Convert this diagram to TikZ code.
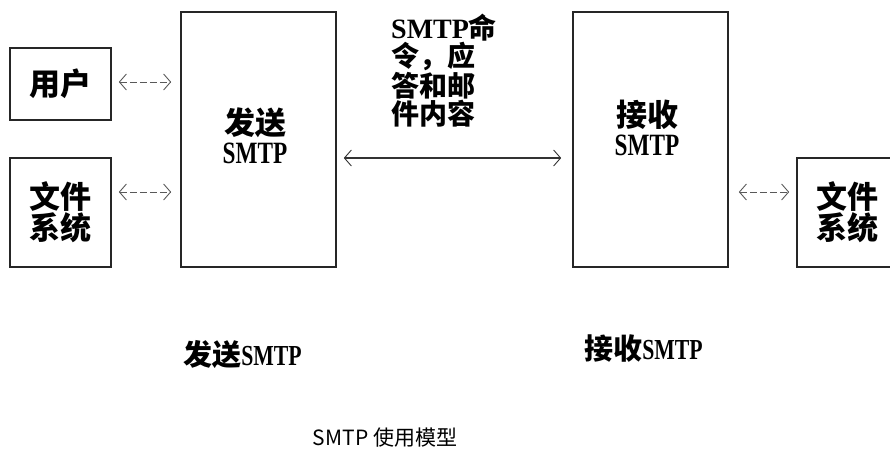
\documentclass[tikz,border=0pt]{standalone}
\usepackage{fontspec}
\setmainfont{Noto Sans CJK SC}
\newfontfamily\latinfont{Liberation Serif}
\newfontfamily\latinnarrow[FakeStretch=0.75, BoldFont={Liberation Serif Bold}, BoldFeatures={FakeStretch=0.75}]{Liberation Serif Bold}
\usetikzlibrary{arrows.meta}

\newcommand{\smtpword}{{\latinfont SMTP}}
\newcommand{\smtpnarrow}{{\latinnarrow SMTP}}

\begin{document}
\begin{tikzpicture}[x=1pt, y=-1pt,
        box/.style={draw=black!85, line width=1.6pt, rectangle, inner sep=0pt},
        txt/.style={font=\fontsize{31}{29}\selectfont\bfseries, inner sep=0pt, align=center},
        lbl/.style={font=\fontsize{29}{29}\selectfont\bfseries, inner sep=0pt},
        msgtxt/.style={font=\fontsize{28}{28}\selectfont\bfseries, inner sep=0pt, align=left},
        barb/.tip={Straight Barb[length=7pt, width=16pt, line width=0.9pt]},
        dashlink/.style={draw=black!65, line width=1pt, dash pattern=on 7pt off 3pt, barb-barb},
        solidlink/.style={draw=black!80, line width=1.4pt, barb-barb}]
    \useasboundingbox (0,0) rectangle (890,463);

    \node[box, minimum width=101pt, minimum height=72pt]  (user) at (60.5,84)   {};
    \node[box, minimum width=101pt, minimum height=109pt] (fsL)  at (60.5,212.5) {};
    \node[box, minimum width=155pt, minimum height=255pt] (send) at (258.5,139.5) {};
    \node[box, minimum width=155pt, minimum height=255pt] (recv) at (650.5,139.5) {};
    \node[box, minimum width=101pt, minimum height=109pt] (fsR)  at (847.5,212.5) {};

    \node[txt] (usertxt) at (user) {用户};
    \node[txt] (fsLtxt)  at (fsL)  {文件\\系统};
    \node[txt] (fsRtxt)  at (fsR)  {文件\\系统};
    \node[txt] (sendtxt) at (255,136) {发送\\\smtpnarrow};
    \node[txt] (recvtxt) at (647,128) {接收\\\smtpnarrow};

    \node[msgtxt, anchor=north west] (msg) at (391,14)
        {\smtpword 命\\令，应\\答和邮\\件内容};

    \node[lbl] (sendlbl) at (242.5,355) {发送\smtpnarrow};
    \node[lbl] (recvlbl) at (643.5,349) {接收\smtpnarrow};
    \node[inner sep=0pt, font=\fontsize{21}{21}\selectfont] (caption) at (385,438) {SMTP 使用模型};

    \coordinate (a1) at ([yshift=2pt]user.east);
    \coordinate (a2) at ([yshift=20.5pt]fsL.east);
    \coordinate (a3) at ([yshift=-52.5pt]recv.east);
    \coordinate (a4) at ([yshift=-18.5pt]send.east);

    \draw[dashlink, shorten <=7pt, shorten >=9pt] (a1) -- (a1 -| send.west);
    \draw[dashlink, shorten <=7pt, shorten >=9pt] (a2) -- (a2 -| send.west);
    \draw[dashlink, shorten <=10pt, shorten >=7pt] (a3) -- (a3 -| fsR.west);
    \draw[solidlink, shorten <=7pt, shorten >=11pt] (a4) -- (a4 -| recv.west);
\end{tikzpicture}
\end{document}
